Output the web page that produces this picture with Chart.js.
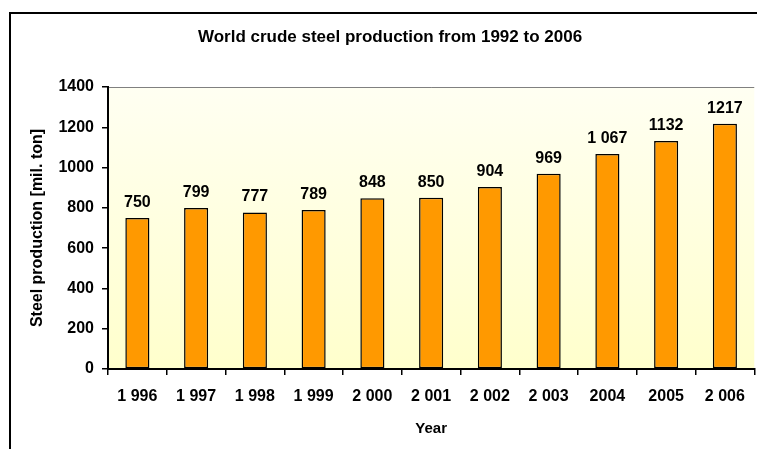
<!DOCTYPE html>
<html>
<head>
<meta charset="utf-8">
<script src="https://cdn.jsdelivr.net/npm/chart.js@4.4.0/dist/chart.umd.min.js"></script>
<style>
  html, body { margin: 0; padding: 0; background: #fff; }
  #wrap { width: 757px; height: 449px; position: relative; }
</style>
</head>
<body>
<div id="wrap"><canvas id="steelChart" width="757" height="449"></canvas></div>
<script>
// Dados do gráfico
const anos = ['1 996', '1 997', '1 998', '1 999', '2 000', '2 001', '2 002', '2 003', '2004', '2005', '2 006'];
const producao = [750, 799, 777, 789, 848, 850, 904, 969, 1067, 1132, 1217];
const rotulosValores = ['750', '799', '777', '789', '848', '850', '904', '969', '1 067', '1132', '1217'];
const ticksY = [0, 200, 400, 600, 800, 1000, 1200, 1400];

Chart.defaults.font.family = '"Liberation Sans", Arial, sans-serif';
Chart.defaults.font.weight = 'bold';
Chart.defaults.color = '#000';

// Moldura, fundo da área do gráfico e título
const fundoPlugin = {
    id: 'fundo',
    beforeDraw(chart) {
        const ctx = chart.ctx;
        const a = chart.chartArea;
        ctx.save();
        ctx.fillStyle = '#fff';
        ctx.fillRect(0, 0, chart.width, chart.height);
        // moldura externa
        ctx.strokeStyle = '#000';
        ctx.lineWidth = 2;
        ctx.beginPath();
        ctx.moveTo(10, chart.height + 5);
        ctx.lineTo(10, 13);
        ctx.lineTo(chart.width + 5, 13);
        ctx.stroke();
        // fundo em degradê
        const grad = ctx.createLinearGradient(0, a.top, 0, a.bottom);
        grad.addColorStop(0, '#FFFFF2');
        grad.addColorStop(1, '#FFFFCC');
        ctx.fillStyle = grad;
        ctx.fillRect(a.left, a.top, a.right - a.left, a.bottom - a.top);
        ctx.strokeStyle = '#808080';
        ctx.lineWidth = 1;
        ctx.beginPath();
        ctx.moveTo(a.left, a.top + 0.5);
        ctx.lineTo(a.right, a.top + 0.5);
        ctx.stroke();
        // título
        ctx.fillStyle = '#000';
        ctx.font = 'bold 17px "Liberation Sans", Arial, sans-serif';
        ctx.textAlign = 'center';
        ctx.textBaseline = 'middle';
        ctx.fillText('World crude steel production from 1992 to 2006', 390, 37);
        ctx.restore();
    }
};

// Rótulos de valores acima das barras
const rotulosPlugin = {
    id: 'rotulos',
    afterDatasetsDraw(chart) {
        const ctx = chart.ctx;
        const meta = chart.getDatasetMeta(0);
        ctx.save();
        ctx.fillStyle = '#000';
        ctx.font = 'bold 16px "Liberation Sans", Arial, sans-serif';
        ctx.textAlign = 'center';
        ctx.textBaseline = 'alphabetic';
        meta.data.forEach((bar, i) => {
            ctx.fillText(rotulosValores[i], bar.x, bar.y - 11);
        });
        ctx.restore();
    }
};

const ctx = document.getElementById('steelChart').getContext('2d');
new Chart(ctx, {
    type: 'bar',
    data: {
        labels: anos,
        datasets: [{
            label: 'Steel production',
            data: producao,
            backgroundColor: '#FF9900',
            borderColor: '#000',
            borderWidth: 1.5,
            borderSkipped: false,
            categoryPercentage: 1,
            barPercentage: 0.41
        }]
    },
    options: {
        responsive: false,
        animation: false,
        events: [],
        layout: { padding: { left: 0, top: 87, right: 2, bottom: 0 } },
        plugins: {
            legend: { display: false },
            tooltip: { enabled: false }
        },
        scales: {
            x: {
                afterFit(scale) { scale.height = 80; },
                grid: {
                    offset: true,
                    drawOnChartArea: false,
                    drawTicks: true,
                    tickLength: 6,
                    color: '#000',
                    lineWidth: 1.5
                },
                border: { color: '#000', width: 2 },
                ticks: {
                    font: { size: 16, weight: 'bold' },
                    padding: 12,
                    maxRotation: 0,
                    autoSkip: false
                },
                title: {
                    display: true,
                    text: 'Year',
                    font: { size: 15, weight: 'bold' },
                    padding: { top: 0, bottom: 11 }
                }
            },
            y: {
                min: ticksY[0],
                max: ticksY[ticksY.length - 1],
                afterFit(scale) { scale.width = 108; },
                afterBuildTicks(scale) {
                    scale.ticks = ticksY.map(v => ({ value: v }));
                },
                grid: {
                    drawOnChartArea: false,
                    drawTicks: true,
                    tickLength: 6,
                    color: '#000',
                    lineWidth: 1.5
                },
                border: { color: '#000', width: 2 },
                ticks: {
                    font: { size: 16, weight: 'bold' },
                    padding: 8,
                    callback: v => String(v)
                },
                title: {
                    display: true,
                    text: 'Steel production [mil. ton]',
                    font: { size: 16, weight: 'bold' },
                    padding: { top: 28, bottom: 0 }
                }
            }
        }
    },
    plugins: [fundoPlugin, rotulosPlugin]
});
</script>
</body>
</html>
